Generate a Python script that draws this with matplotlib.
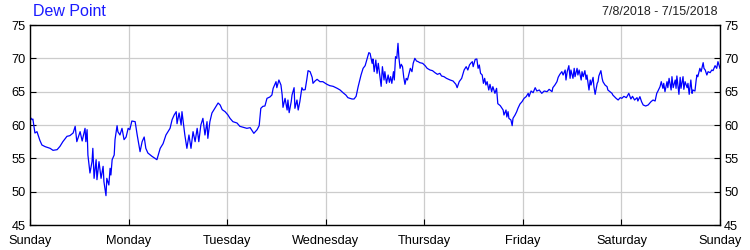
import matplotlib
matplotlib.use("Agg")
import matplotlib.pyplot as plt

plt.rcParams['font.family'] = ['Liberation Sans', 'DejaVu Sans']

# hours since Sunday 00:00 and dew point (F)
hours = [
    0.0, 0.5, 0.7, 1.2, 1.7, 2.4, 2.9, 3.7, 4.9, 5.6, 6.6, 7.3, 8.0, 9.0, 9.7,
    10.5, 11.0, 11.4, 12.2, 12.7, 13.4, 13.6, 13.9, 14.1, 14.6, 15.1, 15.3, 15.6,
    16.1, 16.3, 16.8, 17.3, 17.8, 18.0, 18.5, 18.7, 19.2, 19.5, 19.7, 20.0, 20.5,
    20.7, 21.2, 21.4, 21.9, 22.4, 22.9, 23.4, 23.9, 24.3, 24.8, 25.6, 26.1, 26.8,
    27.3, 27.8, 28.2, 28.7, 29.7, 30.4, 30.9, 31.7, 32.4, 33.1, 34.1, 34.6, 35.1,
    35.6, 35.8, 36.3, 36.8, 37.0, 37.5, 37.7, 38.2, 38.7, 39.2, 39.7, 40.2, 40.7,
    41.1, 41.6, 42.1, 42.6, 43.1, 43.3, 43.8, 44.3, 45.0, 45.8, 46.3, 46.8, 47.5,
    48.2, 48.7, 49.4, 50.4, 51.1, 52.8, 53.6, 54.5, 55.3, 55.8, 56.2, 56.7, 57.2,
    57.7, 58.4, 58.9, 59.2, 59.9, 60.1, 60.6, 61.1, 61.4, 61.6, 62.1, 62.6, 62.8,
    63.1, 63.6, 63.8, 64.3, 64.5, 65.0, 65.3, 65.7, 66.2, 66.5, 67.0, 67.4, 67.7,
    68.2, 68.7, 68.9, 69.4, 69.9, 70.6, 71.3, 72.3, 73.0, 73.8, 74.8, 75.5, 76.2,
    76.9, 77.4, 78.4, 78.9, 79.4, 79.9, 80.6, 81.1, 81.6, 82.1, 82.5, 82.8, 83.3,
    83.5, 83.8, 84.2, 84.5, 84.8, 85.2, 85.5, 85.8, 86.2, 86.4, 86.8, 87.2, 87.5,
    87.8, 88.1, 88.5, 88.7, 89.0, 89.3, 89.6, 89.8, 90.1, 90.4, 90.7, 91.0, 91.3,
    91.6, 91.9, 92.3, 92.6, 93.0, 93.3, 93.7, 94.1, 94.5, 94.9, 95.6, 96.2, 96.7,
    97.4, 98.0, 98.6, 99.2, 99.8, 100.2, 100.8, 101.4, 102.3, 103.0, 103.7, 104.0,
    104.5, 105.1, 105.7, 106.2, 106.6, 107.0, 107.3, 107.7, 107.9, 108.4, 108.8,
    109.1, 109.4, 109.7, 110.1, 110.4, 110.7, 111.0, 111.3, 111.7, 112.0, 112.4,
    112.7, 113.2, 113.6, 113.9, 114.5, 115.2, 115.4, 115.9, 116.1, 116.4, 116.6,
    117.1, 117.4, 117.6, 118.1, 118.5, 118.8, 119.3, 119.8, 120.3, 120.8, 121.3,
    121.5, 122.0, 122.5, 123.0, 123.4, 124.0, 124.6, 125.2, 125.9, 126.4, 127.1,
    127.3, 127.8, 128.3, 128.6, 129.0, 129.5, 129.8, 130.3, 130.5, 130.8, 131.2,
    131.5, 131.7, 132.2, 132.5, 132.7, 133.2, 133.4, 133.7, 134.2, 134.4, 134.7,
    135.1, 135.4, 135.6, 136.1, 136.4, 136.6, 137.1, 137.3, 137.6, 138.1, 138.3,
    138.5, 139.0, 139.3, 139.5, 140.0, 140.5, 140.7, 141.2, 141.7, 141.9, 142.7,
    143.2, 143.7, 144.1, 144.6, 145.2, 145.8, 146.3, 146.7, 147.2, 147.8, 148.0,
    148.5, 148.9, 149.3, 149.9, 150.5, 151.2, 151.7, 152.2, 152.6, 152.9, 153.4,
    153.7, 154.1, 154.3, 154.6, 155.1, 155.3, 155.6, 156.1, 156.3, 156.6, 157.1,
    157.3, 157.5, 158.0, 158.3, 158.5, 159.0, 159.2, 159.5, 160.0, 160.2, 160.5,
    160.9, 161.2, 161.4, 161.9, 162.2, 162.4, 162.6, 163.1, 163.4, 163.9, 164.1,
    164.4, 164.8, 165.1, 165.6, 166.0, 166.3, 166.8, 167.2, 167.5, 168.0,
]
dew_point = [
    61.2, 60.8, 60.9, 58.8, 59.0, 57.7, 57.0, 56.75, 56.5, 56.2, 56.3, 56.8, 57.5,
    58.3, 58.4, 58.8, 59.8, 57.5, 59.0, 57.6, 59.5, 57.5, 59.3, 55.5, 52.8, 54.5,
    56.5, 52.0, 54.8, 51.8, 54.5, 52.0, 53.8, 51.5, 49.4, 52.0, 51.0, 53.5, 52.5,
    54.8, 55.5, 57.8, 59.9, 59.0, 58.5, 59.5, 57.8, 58.2, 59.5, 59.3, 60.6, 60.5,
    58.5, 56.0, 57.5, 58.2, 56.5, 55.8, 55.3, 55.0, 54.8, 56.5, 57.2, 58.5, 59.5,
    60.8, 61.5, 62.0, 60.2, 61.8, 60.0, 62.0, 59.5, 58.5, 56.5, 58.5, 56.5, 59.0,
    57.5, 59.5, 57.5, 60.0, 61.0, 58.5, 60.5, 58.0, 60.5, 61.8, 62.5, 63.3, 63.0,
    62.3, 62.0, 61.5, 61.0, 60.5, 60.3, 59.8, 59.5, 59.6, 58.75, 59.3, 59.9, 62.5,
    62.8, 62.85, 64.0, 64.2, 64.5, 65.5, 66.5, 65.6, 66.75, 66.0, 64.5, 62.65, 64.0,
    62.25, 63.75, 61.85, 63.5, 64.5, 65.6, 62.5, 63.75, 62.25, 63.5, 65.6, 65.25,
    65.3, 66.85, 68.15, 68.0, 67.15, 66.25, 66.6, 66.85, 66.5, 66.5, 66.1, 65.9,
    65.8, 65.5, 65.25, 64.85, 64.5, 64.1, 63.9, 63.9, 64.3, 65.75, 67.5, 68.5,
    68.9, 70.0, 70.85, 70.75, 69.25, 69.9, 68.0, 69.75, 67.75, 69.25, 67.25, 65.8,
    68.75, 66.75, 68.0, 66.25, 67.5, 66.4, 67.25, 66.25, 68.0, 66.75, 70.25, 70.0,
    72.25, 70.25, 68.5, 69.1, 68.75, 67.15, 66.1, 67.0, 66.75, 67.75, 68.5, 68.0,
    69.25, 70.0, 69.6, 69.5, 69.35, 69.25, 68.9, 68.5, 68.25, 68.15, 67.85, 67.6,
    67.75, 67.35, 67.25, 67.0, 66.75, 66.6, 66.1, 65.6, 66.5, 67.0, 68.25, 68.75,
    68.25, 69.0, 69.25, 69.5, 68.75, 69.85, 69.9, 68.5, 69.0, 67.75, 67.5, 66.25,
    67.0, 66.0, 66.5, 65.25, 66.1, 65.0, 65.75, 64.75, 65.5, 63.2, 62.9, 62.25,
    61.5, 62.25, 61.2, 62.0, 61.0, 60.75, 59.9, 61.0, 61.5, 62.0, 62.5, 63.15,
    63.5, 64.0, 64.25, 64.75, 64.25, 65.1, 64.85, 65.6, 65.1, 65.25, 64.75, 65.1,
    65.0, 65.35, 65.0, 65.6, 66.0, 66.5, 67.15, 67.6, 68.0, 67.5, 68.25, 66.75,
    68.0, 68.9, 67.0, 68.25, 67.0, 68.5, 67.25, 68.5, 67.5, 68.25, 66.75, 68.0,
    67.25, 68.15, 66.85, 67.5, 65.25, 66.75, 66.0, 67.15, 65.75, 64.6, 66.25,
    66.5, 67.35, 68.15, 67.0, 66.5, 66.0, 65.75, 65.25, 65.0, 64.75, 64.5, 64.0,
    63.75, 64.1, 64.0, 64.3, 64.1, 64.75, 63.9, 64.3, 63.75, 64.1, 63.6, 64.25,
    63.5, 63.0, 62.85, 63.0, 63.5, 63.75, 63.6, 64.75, 65.1, 65.75, 66.5, 65.5,
    66.25, 65.0, 66.5, 65.6, 67.0, 65.25, 67.25, 65.6, 66.75, 65.5, 67.35, 64.6,
    67.15, 65.5, 67.25, 65.35, 66.5, 65.6, 66.25, 64.6, 66.75, 64.75, 65.25, 65.1,
    66.75, 67.5, 67.25, 68.5, 68.0, 69.35, 68.5, 68.25, 67.5, 68.0, 67.85, 68.25,
    68.15, 68.9, 68.5, 69.5, 68.5,
]

day_ticks = [0, 24, 48, 72, 96, 120, 144, 168]
day_labels = ['Sunday', 'Monday', 'Tuesday', 'Wednesday', 'Thursday',
              'Friday', 'Saturday', 'Sunday']
y_ticks = [45, 50, 55, 60, 65, 70, 75]

fig = plt.figure(figsize=(7.5, 2.5), dpi=100)
ax = fig.add_axes([0.04, 0.10, 0.92, 0.80])

ax.plot(hours, dew_point, color='#0000ff', linewidth=0.9)

ax.set_xlim(0, 168)
ax.set_ylim(45, 75)
ax.set_xticks(day_ticks)
ax.set_xticklabels(day_labels)
ax.set_yticks(y_ticks)
ax.grid(True, color='#cccccc', linewidth=0.9)
ax.set_axisbelow(True)
ax.tick_params(axis='both', direction='in', length=4, width=0.8,
               labelsize=9.2, colors='black')
ax.tick_params(axis='x', pad=7)
ax.tick_params(axis='y', right=True, labelright=True, pad=3)
for s in ax.spines.values():
    s.set_linewidth(1.0)
    s.set_color('black')

fig.text(0.044, 0.952, 'Dew Point', color='#1a1aff', fontsize=11.5,
         ha='left', va='center')
fig.text(0.957, 0.952, '7/8/2018 - 7/15/2018', color='#222222', fontsize=9,
         ha='right', va='center')

fig.savefig('out.png', dpi=100)
